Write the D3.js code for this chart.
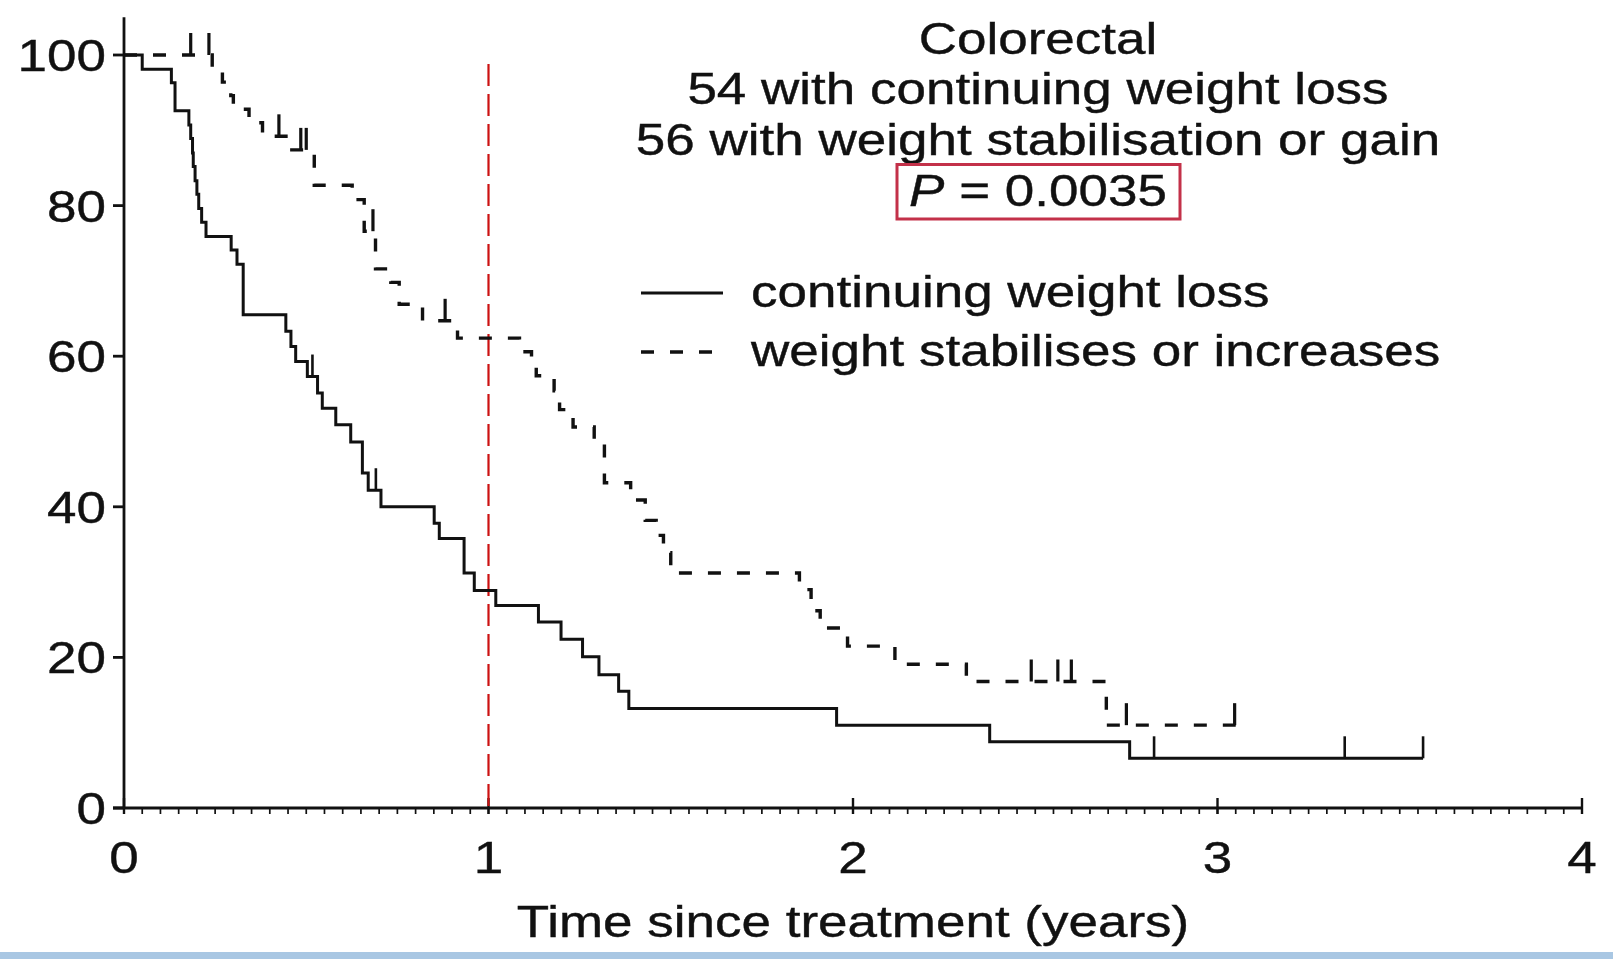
<!DOCTYPE html>
<html><head><meta charset="utf-8">
<script src="https://cdn.jsdelivr.net/npm/d3@7"></script>
<style>html,body{margin:0;padding:0;background:#fff;} svg{display:block;}</style>
</head><body>
<svg id="chart" width="1613" height="959"></svg>
<script>
// ---- data ----
const lossTimes    = [0, 0.05, 0.13, 0.14, 0.178, 0.183, 0.188, 0.19, 0.195, 0.20, 0.205, 0.213, 0.225, 0.294, 0.31, 0.327,
                      0.444, 0.458, 0.471, 0.503, 0.531, 0.544, 0.581, 0.622, 0.654, 0.670, 0.705, 0.851, 0.865, 0.933,
                      0.961, 1.02, 1.137, 1.199, 1.258, 1.303, 1.357, 1.385, 1.955, 2.375, 2.759, 3.564];
const lossSurvival = [100, 98.1, 96.3, 92.6, 90.7, 88.9, 87.0, 85.2, 83.3, 81.5, 79.6, 77.8, 75.9, 74.1, 72.2, 65.5,
                      63.3, 61.3, 59.3, 57.3, 55.1, 53.1, 50.9, 48.6, 44.5, 42.2, 40.0, 37.8, 35.8, 31.2,
                      28.9, 26.9, 24.7, 22.4, 20.1, 17.7, 15.5, 13.2, 11.0, 8.8, 6.6, 6.6];
const lossCensorTimes = [0.517, 0.691, 2.826, 3.349, 3.564];

const gainTimes    = [0, 0.242, 0.27, 0.293, 0.30, 0.343, 0.38, 0.453, 0.522, 0.626, 0.659, 0.69, 0.732, 0.755, 0.819,
                      0.915, 1.085, 1.118, 1.131, 1.18, 1.195, 1.232, 1.29, 1.318, 1.39, 1.43, 1.46, 1.48, 1.50,
                      1.853, 1.885, 1.91, 1.985, 2.115, 2.311, 2.695, 3.05];
const gainSurvival = [100, 98.2, 96.4, 94.6, 92.8, 91.0, 89.2, 87.4, 82.7, 80.8, 76.6, 71.6, 69.8, 66.9, 64.7,
                      62.4, 60.6, 59.0, 57.4, 55.4, 52.9, 50.6, 48.6, 43.2, 40.9, 38.2, 36.2, 33.9, 31.2,
                      29.0, 26.2, 23.9, 21.5, 19.1, 16.8, 11.0, 11.0];
const gainCensorTimes = [0.183, 0.233, 0.425, 0.485, 0.50, 0.683, 0.881, 2.489, 2.562, 2.599, 2.75, 3.047];

const xTicks = [0, 1, 2, 3, 4];
const yTicks = [0, 20, 40, 60, 80, 100];
const markerTime = 1;
const titleLines = ["Colorectal", "54 with continuing weight loss", "56 with weight stabilisation or gain"];
const pLabel = ["P", " = 0.0035"];
const legendLabels = ["continuing weight loss", "weight stabilises or increases"];
const axisTitle = "Time since treatment (years)";

// ---- drawing ----
const svg = d3.select("#chart");
const FONT = "'Liberation Sans', Arial, Helvetica, sans-serif";
const INK = "#111";
const FS = 44, SX = 1.205;

svg.append("rect").attr("width", 1613).attr("height", 959).attr("fill", "#fff");

const x = d3.scaleLinear().domain([0, 4]).range([124, 1582]);
const y = d3.scaleLinear().domain([0, 100]).range([808, 55]);

function stext(x0, y0, str, anchor) {
  const g = svg.append("g").attr("transform", `translate(${x0},${y0}) scale(${SX},1)`);
  const t = g.append("text").attr("text-anchor", anchor)
    .attr("font-family", FONT).attr("font-size", FS).attr("fill", INK)
    .attr("stroke", INK).attr("stroke-width", 0.4);
  if (str !== null) t.text(str);
  return t;
}

// axes lines
svg.append("line").attr("x1", x(0)).attr("x2", x(0)).attr("y1", y(0)).attr("y2", y(105))
  .attr("stroke", INK).attr("stroke-width", 2.8);
svg.append("line").attr("x1", x(0) - 11).attr("x2", x(4)).attr("y1", y(0)).attr("y2", y(0))
  .attr("stroke", INK).attr("stroke-width", 2.8);

// y ticks
yTicks.forEach(v => {
  svg.append("line").attr("x1", x(0) - 11).attr("x2", x(0)).attr("y1", y(v)).attr("y2", y(v))
    .attr("stroke", INK).attr("stroke-width", 2.8);
  stext(x(0) - 18, y(v) + 16, String(v), "end");
});

// x minor ticks every 0.05 year
d3.range(0, 81).forEach(i => {
  const t = i * 0.05;
  svg.append("line").attr("x1", x(t)).attr("x2", x(t)).attr("y1", y(0)).attr("y2", y(0) + 6)
    .attr("stroke", INK).attr("stroke-width", 1.7);
});
// x major ticks + labels
xTicks.forEach(t => {
  svg.append("line").attr("x1", x(t)).attr("x2", x(t)).attr("y1", y(0) - 10).attr("y2", y(0) + 6)
    .attr("stroke", INK).attr("stroke-width", 2.4);
  stext(x(t), 873, String(t), "middle");
});
stext(x(2), 937, axisTitle, "middle");

// red marker line at 1 year
svg.append("line").attr("x1", x(markerTime)).attr("x2", x(markerTime))
  .attr("y1", y(98.8)).attr("y2", y(0))
  .attr("stroke", "#cc1111").attr("stroke-width", 2.2).attr("stroke-dasharray", "22,8");

// step curves
const step = d3.line().x(d => x(d[0])).y(d => y(d[1])).curve(d3.curveStepAfter);
const lossPts = lossTimes.map((t, i) => [t, lossSurvival[i]]);
const gainPts = gainTimes.map((t, i) => [t, gainSurvival[i]]);

svg.append("path").attr("d", step(lossPts)).attr("fill", "none")
  .attr("stroke", INK).attr("stroke-width", 3);
svg.append("path").attr("d", step(gainPts)).attr("fill", "none")
  .attr("stroke", INK).attr("stroke-width", 3.4).attr("stroke-dasharray", "13,16");

function survAt(times, surv, t) {
  let v = surv[0];
  for (let i = 0; i < times.length; i++) if (times[i] <= t + 1e-9) v = surv[i];
  return v;
}
lossCensorTimes.forEach(t => {
  const v = survAt(lossTimes, lossSurvival, t);
  svg.append("line").attr("x1", x(t)).attr("x2", x(t)).attr("y1", y(v)).attr("y2", y(v) - 22)
    .attr("stroke", INK).attr("stroke-width", 2.6);
});
gainCensorTimes.forEach(t => {
  const v = survAt(gainTimes, gainSurvival, t);
  svg.append("line").attr("x1", x(t)).attr("x2", x(t)).attr("y1", y(v)).attr("y2", y(v) - 22)
    .attr("stroke", INK).attr("stroke-width", 3.2);
});

// title block
const titleBaselines = [53.5, 104, 154.5];
titleLines.forEach((s, i) => stext(1038, titleBaselines[i], s, "middle"));
const pt = stext(1038, 205.5, null, "middle");
pt.append("tspan").attr("font-style", "italic").text(pLabel[0]);
pt.append("tspan").text(pLabel[1]);
svg.append("rect").attr("x", 897).attr("y", 164.5).attr("width", 283).attr("height", 54.5)
  .attr("fill", "none").attr("stroke", "#c33149").attr("stroke-width", 3);

// legend
svg.append("line").attr("x1", 641).attr("x2", 723).attr("y1", 293).attr("y2", 293)
  .attr("stroke", INK).attr("stroke-width", 2.8);
stext(751, 306.5, legendLabels[0], "start");
svg.append("line").attr("x1", 641).attr("x2", 713).attr("y1", 352).attr("y2", 352)
  .attr("stroke", INK).attr("stroke-width", 3.4).attr("stroke-dasharray", "13,16");
stext(751, 366, legendLabels[1], "start");

// bottom light-blue rule
svg.append("rect").attr("x", 0).attr("y", 952).attr("width", 1613).attr("height", 7).attr("fill", "#a9c7e3");
</script>
</body></html>
